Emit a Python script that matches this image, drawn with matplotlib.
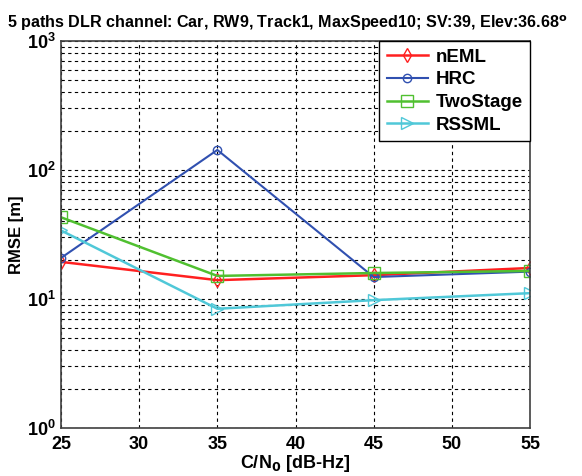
import numpy as np
import matplotlib
matplotlib.use("Agg")
import matplotlib.pyplot as plt
from matplotlib.ticker import LogLocator, NullFormatter

cn0 = [25, 35, 45, 55]
neml = [19.4, 14.0, 15.3, 17.4]
hrc = [20.8, 143.0, 14.8, 16.3]
two_stage = [43.0, 15.1, 15.9, 16.5]
rssml = [34.0, 8.4, 9.8, 11.1]

plt.rcParams["font.family"] = ["Liberation Sans", "DejaVu Sans"]
plt.rcParams["font.weight"] = "bold"

fig = plt.figure(figsize=(5.82, 4.76), dpi=100)
ax = fig.add_axes([0.1048, 0.1008, 0.8059, 0.8131])

ax.semilogy(cn0, neml, color="#ff2020", marker="d", mfc="none", ms=7, lw=1.8, label="nEML")
ax.semilogy(cn0, hrc, color="#3050b0", marker="o", mfc="none", ms=6, lw=1.5, label="HRC")
ax.semilogy(cn0, two_stage, color="#50c030", marker="s", mfc="none", ms=8, lw=1.8, label="TwoStage")
ax.semilogy(cn0, rssml, color="#50c8d8", marker=">", mfc="none", ms=9, lw=1.8, label="RSSML")

ax.set_xlim(25, 55)
ax.set_ylim(1, 1000)
ax.set_xticks([25, 30, 35, 40, 45, 50, 55])
ax.yaxis.set_major_locator(LogLocator(base=10, numticks=10))
ax.yaxis.set_minor_locator(LogLocator(base=10, subs=np.arange(2, 10), numticks=20))
ax.yaxis.set_minor_formatter(NullFormatter())
ax.grid(True, which="both", axis="y", color="black", ls=(0, (3, 3)), lw=0.8)
ax.grid(True, which="major", axis="x", color="black", ls=(0, (3, 3)), lw=0.8)
ax.tick_params(labelsize=13, direction="in", which="both", length=0)
ax.tick_params(axis="x", pad=6)
ax.tick_params(axis="y", pad=4)
for lab in ax.get_xticklabels() + ax.get_yticklabels():
    lab.set_fontweight("bold")
for s in ax.spines.values():
    s.set_color("#404040")
    s.set_linewidth(1.2)

ax.set_xlabel("C/N$_\\mathbf{0}$ [dB-Hz]", fontsize=13, fontweight="bold", labelpad=0)
ax.set_ylabel("RMSE [m]", fontsize=12, fontweight="bold", labelpad=2)

leg = ax.legend(loc="upper right", fontsize=13.5, fancybox=False, framealpha=1,
                edgecolor="black", handlelength=2.2, borderaxespad=0.0,
                labelspacing=0.3, handletextpad=0.4, borderpad=0.4)
leg.get_frame().set_linewidth(1.0)
for t in leg.get_texts():
    t.set_fontweight("bold")

fig.text(0.012, 0.952, "5 paths DLR channel: Car, RW9, Track1, MaxSpeed10; SV:39, Elev:36.68$^{\\mathrm{o}}$",
         fontsize=11.6, fontweight="bold", ha="left", va="center")

fig.savefig("out.png", dpi=100)
